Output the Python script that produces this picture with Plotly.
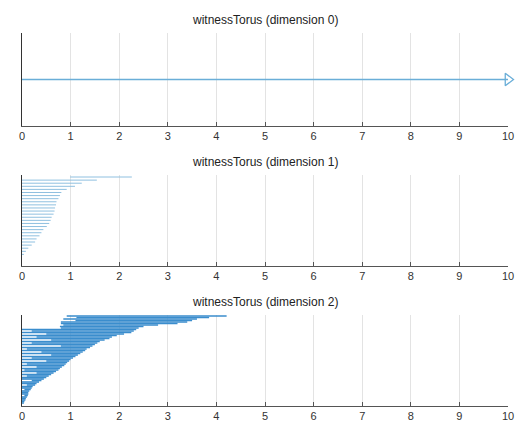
import plotly.graph_objects as go

# ---- data ----
titles = ["witnessTorus (dimension 0)", "witnessTorus (dimension 1)", "witnessTorus (dimension 2)"]
x_ticks = [0, 1, 2, 3, 4, 5, 6, 7, 8, 9, 10]

dim0_birth = [0.0]
dim0_death = [10.0]   # infinite interval, drawn to the right edge with an arrow

dim1_birth = [0.99, 0, 0, 0, 0, 0, 0, 0, 0, 0, 0, 0, 0, 0, 0, 0, 0, 0, 0, 0, 0, 0, 0, 0, 0, 0]
dim1_death = [2.26, 1.54, 1.23, 1.09, 0.92, 0.81, 0.78, 0.75, 0.71, 0.70, 0.68, 0.67, 0.65,
              0.61, 0.59, 0.56, 0.51, 0.44, 0.40, 0.36, 0.30, 0.27, 0.20, 0.13, 0.08, 0.04]

dim2_birth = [0.92, 1.12, 0.85, 1.10, 0.80, 0.80, 0.85, 0.78, 0.80, 0.0,
              0.20, 0.0, 0.50, 0.0, 0.30, 0.0, 0.60, 0.0, 0.20, 0.0,
              0.80, 0.0, 0.10, 0.0, 0.40, 0.0, 0.60, 0.0, 0.20, 0.0,
              0.50, 0.0, 0.10, 0.0, 0.30, 0.0, 0.05, 0.0, 0.30, 0.0,
              0.10, 0.0, 0.0, 0.20, 0.0, 0.0, 0.10, 0.0, 0.0, 0.05,
              0.0, 0.0, 0.0, 0.05, 0.0, 0.0, 0.0, 0.0, 0.0]
dim2_death = [4.21, 3.85, 3.60, 3.50, 3.40, 3.20, 2.80, 2.50, 2.40, 2.35,
              2.30, 2.25, 2.10, 1.95, 1.85, 1.80, 1.70, 1.60, 1.55, 1.50,
              1.45, 1.40, 1.33, 1.30, 1.25, 1.20, 1.15, 1.10, 1.05, 1.00,
              0.97, 0.93, 0.90, 0.87, 0.82, 0.78, 0.75, 0.70, 0.65, 0.60,
              0.55, 0.50, 0.45, 0.40, 0.35, 0.30, 0.27, 0.22, 0.20, 0.18,
              0.15, 0.13, 0.13, 0.12, 0.10, 0.08, 0.07, 0.05, 0.04]

# ---- figure ----
W, H = 521, 430
ML, MR, MT, MB = 22, 13, 33, 24
PH = H - MT - MB

def dom(top_px, bot_px):
    return [1 - (bot_px - MT) / PH, 1 - (top_px - MT) / PH]

panels = [dom(33, 126), dom(175, 266), dom(315, 406)]
colors = ["#6aaed8", "#8fc0e0", "#3a8dcd"]
widths = [1.5, 1, 1.6]

fig = go.Figure()

def seg(births, deaths):
    xs, ys = [], []
    for i, (b, d) in enumerate(zip(births, deaths)):
        xs += [b, d, None]
        ys += [i + 1, i + 1, None]
    return xs, ys

datasets = [(dim0_birth, dim0_death), (dim1_birth, dim1_death), (dim2_birth, dim2_death)]
yranges = [[2, 0], [29.75, 0.35], [61.0, 0.33]]

for k, (b, d) in enumerate(datasets):
    xs, ys = seg(b, d)
    ax = "" if k == 0 else str(k + 1)
    fig.add_trace(go.Scatter(x=xs, y=ys, mode="lines",
                             line=dict(color=colors[k], width=widths[k]),
                             xaxis="x" + ax, yaxis="y" + ax,
                             hoverinfo="skip", showlegend=False, cliponaxis=False))

# arrow for the infinite interval
fig.add_trace(go.Scatter(x=[dim0_death[0]], y=[1], mode="markers",
                         marker=dict(symbol="triangle-right-open", size=11,
                                     color=colors[0], line=dict(width=1.3, color=colors[0])),
                         xaxis="x", yaxis="y", hoverinfo="skip", showlegend=False, cliponaxis=False))

layout = dict(width=W, height=H, margin=dict(l=ML, r=MR, t=MT, b=MB, autoexpand=False),
              paper_bgcolor="white", plot_bgcolor="white",
              font=dict(family="Liberation Sans, Arial, sans-serif", size=11, color="#333333"))

for k in range(3):
    ax = "" if k == 0 else str(k + 1)
    layout["xaxis" + ax] = dict(range=[0, 10], tickvals=x_ticks, ticktext=[str(t) for t in x_ticks],
                                domain=[0, 1], anchor="y" + ax,
                                showgrid=True, gridcolor="#e3e3e3", gridwidth=1,
                                showline=True, linecolor="#555555", linewidth=1,
                                ticks="inside", ticklen=4, tickcolor="#555555",
                                zeroline=False, tickfont=dict(size=11, color="#333333"))
    layout["yaxis" + ax] = dict(range=yranges[k], domain=panels[k], anchor="x" + ax,
                                showgrid=False, showticklabels=False, ticks="",
                                showline=True, linecolor="#333333", linewidth=1,
                                zeroline=False)

fig.update_layout(**layout)

for k in range(3):
    fig.add_annotation(text=titles[k], xref="paper", yref="paper", x=0.5, y=panels[k][1],
                       xanchor="center", yanchor="bottom", yshift=4, showarrow=False,
                       font=dict(size=12, color="#222222"))

fig.write_html("out.html", config={"displayModeBar": False},
               post_script="document.body.style.margin='0px';document.body.style.overflow='hidden';")
